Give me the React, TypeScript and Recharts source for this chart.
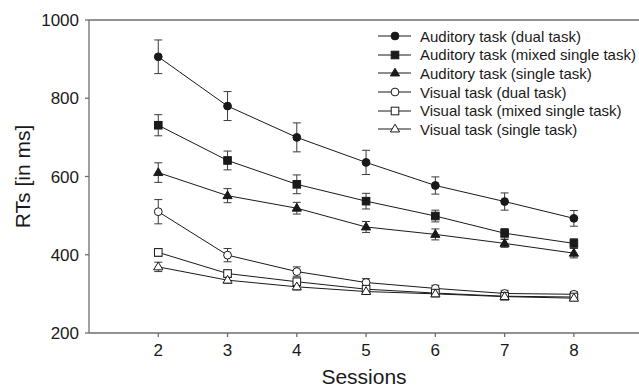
import React from 'react';
import { ComposedChart, Line, XAxis, YAxis, ErrorBar, ReferenceLine, Legend, Label } from 'recharts';

const sessions = [2, 3, 4, 5, 6, 7, 8];
const yTicks = [200, 400, 600, 800, 1000];

const audDual = [906, 780, 700, 636, 577, 536, 493];
const audDualErr = [43, 37, 37, 31, 22, 22, 20];
const audMixed = [731, 641, 580, 537, 499, 455, 429];
const audMixedErr = [27, 24, 24, 20, 15, 12, 12];
const audSingle = [610, 551, 519, 471, 452, 429, 404];
const audSingleErr = [25, 18, 15, 14, 14, 10, 12];
const visDual = [510, 399, 357, 329, 314, 301, 299];
const visDualErr = [31, 17, 12, 10, 8, 8, 7];
const visMixed = [406, 352, 331, 312, 302, 294, 292];
const visMixedErr = [10, 9, 9, 8, 7, 7, 6];
const visSingle = [369, 335, 318, 306, 300, 293, 289];
const visSingleErr = [12, 8, 8, 7, 6, 6, 6];

const seriesNames = [
  'Auditory task (dual task)',
  'Auditory task (mixed single task)',
  'Auditory task (single task)',
  'Visual task (dual task)',
  'Visual task (mixed single task)',
  'Visual task (single task)',
];
const seriesValues = [audDual, audMixed, audSingle, visDual, visMixed, visSingle];
const seriesErrs = [audDualErr, audMixedErr, audSingleErr, visDualErr, visMixedErr, visSingleErr];
const shapes = ['circle', 'square', 'triangle', 'circle', 'square', 'triangle'];
const filled = [true, true, true, false, false, false];

const data = sessions.map((s, i) => {
  const row: any = { session: s };
  seriesValues.forEach((vals, k) => {
    row['v' + k] = vals[i];
    row['e' + k] = seriesErrs[k][i];
  });
  return row;
});

const INK = '#1a1a1a';
const AXIS = '#6e6e6e';
const FONT = '"Liberation Sans", Arial, Helvetica, sans-serif';

function Marker({ cx, cy, shape, fill }: { cx: number; cy: number; shape: string; fill: boolean }) {
  const f = fill ? INK : '#ffffff';
  if (shape === 'circle') return <circle cx={cx} cy={cy} r={3.9} fill={f} stroke={INK} strokeWidth={1} />;
  if (shape === 'square') return <rect x={cx - 3.8} y={cy - 3.8} width={7.6} height={7.6} fill={f} stroke={INK} strokeWidth={1} />;
  const h = 7.8;
  const w = 4.6;
  return (
    <polygon
      points={`${cx},${cy - h * 0.62} ${cx - w},${cy + h * 0.38} ${cx + w},${cy + h * 0.38}`}
      fill={f}
      stroke={INK}
      strokeWidth={1}
    />
  );
}

const makeDot = (k: number) => (props: any) => {
  const { cx, cy, index } = props;
  if (cx == null || cy == null) return <g key={index} />;
  return <Marker key={index} cx={cx} cy={cy} shape={shapes[k]} fill={filled[k]} />;
};

const LegendContent = () => (
  <div style={{ fontFamily: FONT, fontSize: 15, color: INK }}>
    {seriesNames.map((n, k) => (
      <div key={n} style={{ display: 'flex', alignItems: 'center', height: 18.6, whiteSpace: 'nowrap' }}>
        <svg width={36} height={14} style={{ display: 'block', marginRight: 6 }}>
          <line x1={0} y1={7} x2={33} y2={7} stroke={INK} strokeWidth={1} />
          <Marker cx={17} cy={7} shape={shapes[k]} fill={filled[k]} />
        </svg>
        <span>{n}</span>
      </div>
    ))}
  </div>
);

const YLabel = (props: any) => {
  const vb = props.viewBox || {};
  const cy = vb.y + vb.height / 2;
  const cx = 22;
  return (
    <text
      x={cx}
      y={cy}
      transform={`rotate(-90 ${cx} ${cy})`}
      textAnchor="middle"
      dominantBaseline="central"
      fontFamily={FONT}
      fontSize={21}
      fill={INK}
    >
      RTs [in ms]
    </text>
  );
};

export default function App() {
  return (
    <div style={{ position: 'absolute', left: 0, top: 0, width: 639, height: 387, background: '#fff' }}>
      <ComposedChart width={639} height={387} data={data} margin={{ top: 20, right: 0, bottom: 0, left: 0 }}>
        <XAxis
          dataKey="session"
          type="number"
          domain={[1, 8.94]}
          ticks={sessions}
          allowDataOverflow
          stroke={AXIS}
          strokeWidth={1.3}
          tickSize={4}
          tickMargin={7}
          height={54}
          tick={{ fill: INK, fontSize: 17, fontFamily: FONT }}
        >
          <Label value="Sessions" position="insideBottom" offset={3} fill={INK} fontSize={21} fontFamily={FONT} />
        </XAxis>
        <YAxis
          type="number"
          domain={[200, 1000]}
          ticks={yTicks}
          width={89}
          stroke={AXIS}
          strokeWidth={1.3}
          tickSize={4}
          tickMargin={6}
          tick={{ fill: INK, fontSize: 17, fontFamily: FONT }}
        >
          <Label content={YLabel} />
        </YAxis>
        <ReferenceLine y={1000} stroke={AXIS} strokeWidth={1.3} />
        {seriesValues.map((_, k) => (
          <Line
            key={k}
            dataKey={'v' + k}
            name={seriesNames[k]}
            type="linear"
            stroke={INK}
            strokeWidth={1}
            dot={makeDot(k)}
            activeDot={false}
            isAnimationActive={false}
          >
            <ErrorBar dataKey={'e' + k} width={4} stroke="#3a3a3a" strokeWidth={1} direction="y" />
          </Line>
        ))}
        <Legend
          layout="vertical"
          align="center"
          verticalAlign="middle"
          content={LegendContent}
          wrapperStyle={{ left: 378, top: 27, width: 261, height: 'auto' }}
        />
      </ComposedChart>
    </div>
  );
}
